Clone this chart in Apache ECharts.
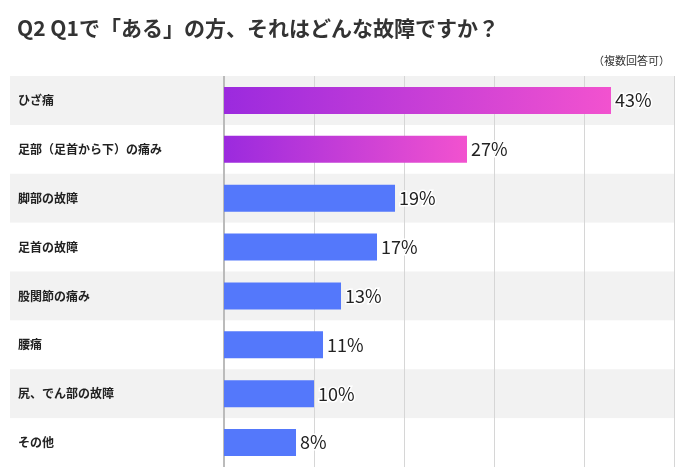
<!DOCTYPE html><html><head><meta charset="utf-8"><script src="https://cdn.jsdelivr.net/npm/echarts@6/dist/echarts.min.js"></script></head><body style="margin:0"><div id="c" style="width:693px;height:471px"></div><script>
const categories=["ひざ痛","足部（足首から下）の痛み","脚部の故障","足首の故障","股関節の痛み","腰痛","尻、でん部の故障","その他"];
const values=[43,27,19,17,13,11,10,8];
const gridTicks=[10,20,30,40,50];
const c=echarts.init(document.getElementById('c'));
const grad={type:'linear',x:0,y:0,x2:1,y2:0,colorStops:[{offset:0,color:'#9b2ade'},{offset:1,color:'#f252cf'}]};
c.setOption({
 title:[{text:'Q2 Q1で「ある」の方、それはどんな故障ですか？',left:12,top:13,textStyle:{fontSize:21,fontWeight:'bold',color:'#333',fontFamily:'Noto Sans CJK JP'}},
  {text:'（複数回答可）',right:18,top:50,textStyle:{fontSize:11,fontWeight:'normal',color:'#333',fontFamily:'Noto Sans CJK JP'}}],
 grid:{left:10,right:19,top:76,bottom:4},
 xAxis:{type:'value',min:-23.78,max:50,show:false,splitLine:{show:false}},
 yAxis:{type:'category',data:categories,inverse:true,axisLine:{show:false},axisTick:{show:false},
  axisLabel:{inside:true,margin:8,color:'#222',fontWeight:'bold',fontSize:12,fontFamily:'Noto Sans CJK JP'},
  splitArea:{show:true,areaStyle:{color:['#f2f2f2','#ffffff']}}},
 series:[{type:'bar',data:values.map((v,i)=>({value:v,itemStyle:{color:i<2?grad:'#5478fb'}})),barWidth:27,
  label:{show:true,position:'right',distance:4,formatter:'{c}%',fontSize:18,color:'#222',fontFamily:'Noto Sans CJK JP',fontWeight:'normal',textBorderColor:'#fff',textBorderWidth:3},
  markLine:{silent:true,symbol:'none',label:{show:false},z:1,
   data:[{xAxis:0,lineStyle:{color:'#bbb',width:2,type:'solid'}}].concat(gridTicks.map(t=>({xAxis:t,lineStyle:{color:'#d6d6d6',width:1,type:'solid'}})))}}]
});
</script></body></html>
